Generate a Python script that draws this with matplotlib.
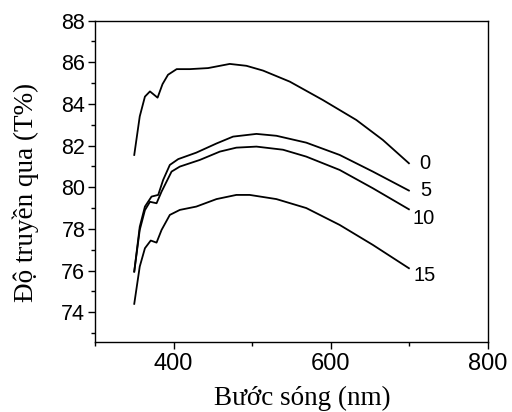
import matplotlib
matplotlib.use('Agg')
import matplotlib.pyplot as plt
from matplotlib.ticker import MultipleLocator

# transmittance curves (wavelength nm, T%)
wl_0 = [350, 357, 363.6, 370, 379.7, 386, 393, 404, 420.8, 444, 471.6, 492.8, 514, 548, 590, 632.7, 666.5, 699.7]
t_0 = [81.55, 83.4, 84.35, 84.6, 84.3, 84.95, 85.4, 85.67, 85.67, 85.72, 85.92, 85.83, 85.6, 85.07, 84.19, 83.23, 82.27, 81.15]

wl_5 = [350, 357, 363.6, 372, 380.5, 386.8, 395.3, 406, 429, 454.7, 475.8, 505.6, 531, 569, 611.5, 653.8, 699.7]
t_5 = [75.95, 78.1, 79.07, 79.55, 79.63, 80.35, 81.07, 81.35, 81.66, 82.1, 82.43, 82.56, 82.47, 82.14, 81.55, 80.75, 79.84]

wl_10 = [350, 357, 363.6, 370, 378.4, 384.8, 397.5, 408, 433.5, 459, 480, 505.6, 539.4, 569, 611.5, 653.8, 699.7]
t_10 = [75.95, 77.95, 78.9, 79.3, 79.23, 79.79, 80.75, 80.99, 81.31, 81.71, 81.9, 81.95, 81.8, 81.47, 80.83, 79.95, 78.94]

wl_15 = [350, 357, 363.6, 371, 378.4, 384.8, 395.3, 408, 429, 454.7, 480, 497, 531, 569, 611.5, 653.8, 699.7]
t_15 = [74.4, 76.19, 77.07, 77.44, 77.34, 77.95, 78.67, 78.91, 79.07, 79.43, 79.63, 79.63, 79.43, 79.0, 78.19, 77.23, 76.11]

labels = ['0', '5', '10', '15']
label_x = [713, 714.5, 704.7, 705.5]
label_y = [81.12, 79.84, 78.51, 75.74]

fig = plt.figure(figsize=(5.12, 4.12), dpi=100)
ax = fig.add_axes([0.1855, 0.170, 0.767, 0.780])

series = [(wl_0, t_0), (wl_5, t_5), (wl_10, t_10), (wl_15, t_15)]
for (x, y) in series:
    ax.plot(x, y, color='black', linewidth=1.3)
for lab, lx, ly in zip(labels, label_x, label_y):
    ax.text(lx, ly, lab, fontsize=14.5, family='Liberation Sans', ha='left', va='center')

ax.set_xlim(300, 800)
ax.set_ylim(72.57, 88)
ax.xaxis.set_major_locator(MultipleLocator(200))
ax.xaxis.set_minor_locator(MultipleLocator(100))
ax.yaxis.set_major_locator(MultipleLocator(2))
ax.yaxis.set_minor_locator(MultipleLocator(1))
ax.tick_params(which='major', direction='out', length=5, width=1)
ax.tick_params(which='minor', direction='out', length=3, width=1)
ax.tick_params(axis='x', labelsize=17, pad=3)
ax.tick_params(axis='y', labelsize=15.5, pad=2)
for lbl in ax.get_xticklabels() + ax.get_yticklabels():
    lbl.set_family('Liberation Sans')
for sp in ax.spines.values():
    sp.set_linewidth(1.0)

ax.set_xlabel('Bước sóng (nm)', fontsize=19.5, family='Liberation Serif', labelpad=8)
ax.set_ylabel('Độ truyền qua (T%)', fontsize=19.5, family='Liberation Serif', labelpad=16)
ax.xaxis.label.set_x(0.527)
ax.yaxis.label.set_y(0.465)

fig.savefig('out.png', dpi=100)
